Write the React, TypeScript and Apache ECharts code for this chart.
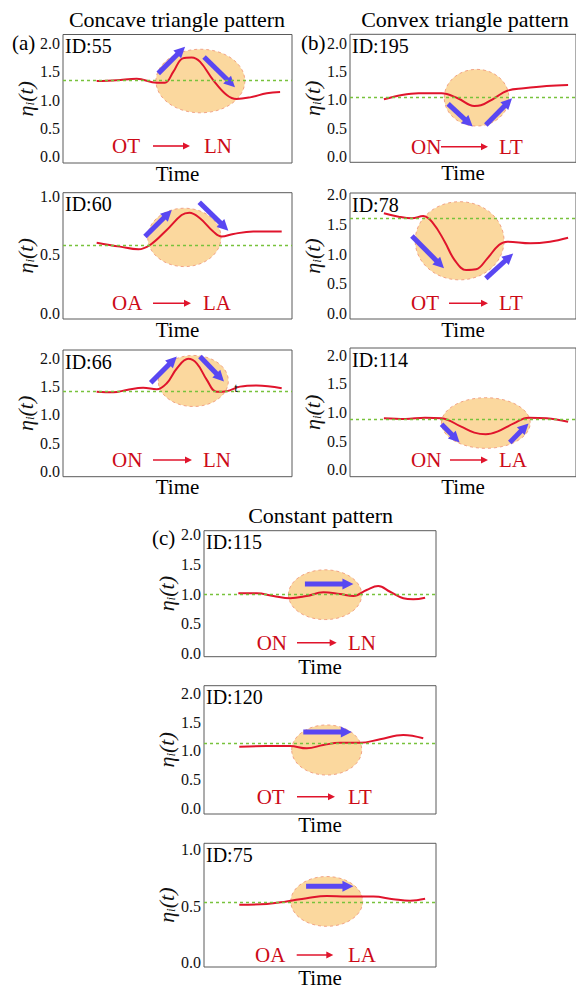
import React, { useEffect, useRef } from 'react';
import * as echarts from 'echarts';

const W = 576;
const H = 989;
const SERIF = "'Liberation Serif', 'Times New Roman', serif";

// ---------- data ----------
const panelIds = ['ID:55', 'ID:195', 'ID:60', 'ID:78', 'ID:66', 'ID:114', 'ID:115', 'ID:120', 'ID:75'];
const fromStates = ['OT', 'ON', 'OA', 'OT', 'ON', 'ON', 'ON', 'OT', 'OA'];
const toStates = ['LN', 'LT', 'LA', 'LT', 'LN', 'LA', 'LN', 'LT', 'LA'];
const patternTitles = ['Concave triangle pattern', 'Convex triangle pattern', 'Constant pattern'];
const panelLetters = ['(a)', '(b)', '(c)'];

const ticksFull = [0, 0.5, 1, 1.5, 2];
const ticksHalf = [0, 0.5, 1];
const panelTicks = [ticksFull, ticksFull, ticksHalf, ticksFull, ticksFull, ticksFull, ticksFull, ticksFull, ticksHalf];
const panelYMin = [-0.11, -0.1, -0.049, -0.096, -0.088, -0.117, -0.057, -0.099, -0.037];
const panelYMax = [2.155, 2.159, 1.033, 2.032, 2.146, 2.122, 2.071, 2.132, 1.057];

const curve55 = [[14.7, 1.335], [23.4, 1.35], [32.2, 1.376], [40.9, 1.305], [44.5, 1.305], [48.2, 1.5], [52.3, 1.735], [56.2, 1.75], [59.8, 1.676], [65.6, 1.35], [71.5, 1.088], [75.8, 1.018], [81.7, 1.047], [89, 1.118], [94.8, 1.14]];
const curve195 = [[15, 1.012], [23, 1.088], [30.3, 1.118], [40.5, 1.118], [47.7, 1.03], [55, 0.894], [57.9, 0.906], [63.8, 1.03], [69.6, 1.164], [76.9, 1.206], [87, 1.247], [96.5, 1.265]];
const curve60 = [[14.7, 0.605], [24.9, 0.571], [32.9, 0.548], [38, 0.585], [45.3, 0.714], [51.8, 0.842], [55.2, 0.862], [59.8, 0.814], [65.6, 0.7], [69.3, 0.657], [74.4, 0.68], [83.1, 0.7], [95.5, 0.7]];
const curve78 = [[15, 1.69], [21.5, 1.632], [27.4, 1.605], [32.4, 1.643], [36.8, 1.52], [41.9, 1.21], [46.3, 0.9], [51.4, 0.73], [55.8, 0.743], [60.8, 0.929], [65.9, 1.154], [69.6, 1.21], [79.8, 1.182], [88.5, 1.21], [96.5, 1.277]];
const curve66 = [[14.7, 1.41], [22, 1.4], [27.8, 1.44], [35, 1.48], [40.9, 1.453], [45.3, 1.56], [49.7, 1.82], [54.7, 1.99], [58.4, 1.91], [62.8, 1.62], [67.1, 1.41], [71.5, 1.42], [77.3, 1.5], [84.6, 1.52], [95.5, 1.47]];
const curve114 = [[15, 0.9], [24.5, 0.887], [33.2, 0.91], [40.5, 0.9], [49.2, 0.753], [55, 0.65], [60.1, 0.62], [65.2, 0.667], [72.5, 0.81], [79, 0.91], [87, 0.9], [96.5, 0.84]];
const curve115 = [[14.8, 1.013], [22.7, 1.013], [29.9, 0.968], [37.1, 0.929], [44.3, 0.968], [51.4, 1.03], [58.6, 1.0], [64.4, 0.968], [70.1, 1.07], [75.1, 1.137], [80.2, 1.04], [85.9, 0.93], [90.2, 0.912], [95.3, 0.94]];
const curve120 = [[15.2, 1.07], [27, 1.083], [37.1, 1.083], [44.3, 1.043], [51.4, 1.1], [58.6, 1.14], [67.2, 1.14], [75.9, 1.2], [85.9, 1.275], [94.5, 1.217]];
const curve75 = [[15.2, 0.514], [27, 0.52], [35.6, 0.543], [44.3, 0.572], [52.9, 0.592], [61.5, 0.586], [73, 0.586], [81.6, 0.563], [88.8, 0.549], [95.3, 0.566]];
const curves = [curve55, curve195, curve60, curve78, curve66, curve114, curve115, curve120, curve75];

const thresholds = [1.34, 1.047, 0.577, 1.615, 1.423, 0.88, 1.0, 1.13, 0.537];

// [centerX, centerY, radiusX, radiusY] in data units
const ellipses = [
  [60, 1.335, 19.4, 0.56],
  [56, 1.04, 14.3, 0.5],
  [53, 0.65, 16, 0.25],
  [48.5, 1.225, 19.65, 0.66],
  [56.9, 1.6, 15.3, 0.45],
  [60.1, 0.817, 19.65, 0.44],
  [52.2, 0.99, 15.8, 0.42],
  [52.9, 1.014, 15.1, 0.435],
  [52.9, 0.543, 15.5, 0.22],
];

// [x1, y1, x2, y2] in data units (tip at x2, y2)
const trendArrows = [
  [[41.6, 1.47, 53.3, 1.94], [61.6, 1.76, 75.1, 1.224]],
  [[43.4, 0.93, 54.3, 0.53], [60.1, 0.56, 71.7, 1.03]],
  [[35.8, 0.657, 47.5, 0.885], [59.5, 0.951, 72.2, 0.708]],
  [[27.4, 1.306, 41.6, 0.76], [60.1, 0.59, 72.2, 1.01]],
  [[38.3, 1.57, 49.7, 2.03], [59.8, 2.03, 70.3, 1.59]],
  [[40.5, 0.794, 48.5, 0.48], [70.7, 0.48, 79, 0.81]],
  [[43.5, 1.17, 64.4, 1.17]],
  [[42.8, 1.327, 63.7, 1.327]],
  [[44, 0.677, 64.4, 0.677]],
];

// ---------- layout ----------
const gridRects = [
  [63, 34.5, 229, 128.5],
  [350, 34.3, 229, 128],
  [63, 192.7, 229, 126.3],
  [350, 193, 229, 126],
  [63, 350, 229, 126.7],
  [350, 348, 229, 128.7],
  [204, 530.7, 232, 126],
  [204, 685.7, 232, 128.3],
  [204, 843.3, 232, 127.7],
];
// [fromLeft, arrowStart, arrowEnd, toLeft, offsetFromBottom]
const stateLayout = [
  [49, 90, 127, 141, 17],
  [61, 91, 138, 149, 15.6],
  [49, 90, 128, 140, 15.7],
  [61, 99, 138, 149, 15.7],
  [49, 90, 129, 140, 16.7],
  [61, 100, 138, 149, 16.7],
  [52.7, 93, 132.7, 144, 14],
  [52.7, 93, 131, 144, 17.3],
  [51, 92.7, 129.3, 144, 16],
];
const titlePos = [[177, 19], [465, 19], [320.6, 515]];
const letterPos = [[12, 43], [301, 43], [152, 538]];

const RED = '#e0142c';
const TXT_RED = '#cc0a18';
const BLUE = '#5947f2';
const ORANGE = '#fbd89e';

function ellipseRender(params: any, api: any) {
  const c = api.coord([api.value(0), api.value(1)]);
  const s = api.size([api.value(2), api.value(3)]);
  return {
    type: 'ellipse',
    shape: { cx: c[0], cy: c[1], rx: s[0], ry: s[1] },
    style: { fill: ORANGE, stroke: '#f2a486', lineWidth: 1, lineDash: [3, 3] },
  };
}

function arrowRender(params: any, api: any) {
  const p1 = api.coord([api.value(0), api.value(1)]);
  const p2 = api.coord([api.value(2), api.value(3)]);
  const dx = p2[0] - p1[0];
  const dy = p2[1] - p1[1];
  const len = Math.hypot(dx, dy) || 1;
  const ux = dx / len;
  const uy = dy / len;
  const hl = 11;
  const hw = 5.5;
  const bx = p2[0] - ux * hl;
  const by = p2[1] - uy * hl;
  return {
    type: 'group',
    children: [
      {
        type: 'line',
        shape: { x1: p1[0], y1: p1[1], x2: bx + ux, y2: by + uy },
        style: { stroke: BLUE, lineWidth: 5 },
      },
      {
        type: 'polygon',
        shape: { points: [[p2[0], p2[1]], [bx - uy * hw, by + ux * hw], [bx + uy * hw, by - ux * hw]] },
        style: { fill: BLUE },
      },
    ],
  };
}

export default function App() {
  const ref = useRef<HTMLDivElement>(null);
  useEffect(() => {
    document.body.style.margin = '0';
    const chart = echarts.init(ref.current!, null, { renderer: 'svg', width: W, height: H });

    const grids = gridRects.map(([l, t, w, h]) => ({
      left: l, top: t, width: w, height: h,
      show: true, borderColor: '#5a5a5a', borderWidth: 1, backgroundColor: 'transparent',
    }));

    const xAxes = gridRects.map((_, i) => ({
      type: 'value', gridIndex: i, min: 0, max: 100,
      axisLine: { show: false }, axisTick: { show: false }, axisLabel: { show: false }, splitLine: { show: false },
      name: 'Time', nameLocation: 'middle', nameGap: 0,
      nameTextStyle: { fontFamily: SERIF, fontSize: 21, color: '#000' },
    }));

    const yAxes = gridRects.map((_, i) => ({
      type: 'value', gridIndex: i, min: panelYMin[i], max: panelYMax[i],
      axisLine: { show: false }, axisTick: { show: false }, splitLine: { show: false },
      axisLabel: {
        customValues: panelTicks[i],
        formatter: (v: number) => v.toFixed(1),
        fontFamily: SERIF, fontSize: 16, color: '#111', margin: 3,
      },
      name: '{e|η}{s|i}{e|(t)}', nameLocation: 'middle', nameGap: 27, nameRotate: 90,
      nameTextStyle: {
        rich: {
          e: { fontFamily: SERIF, fontStyle: 'italic', fontSize: 22, color: '#111' },
          s: { fontFamily: SERIF, fontStyle: 'italic', fontSize: 13, color: '#111', verticalAlign: 'bottom' },
        },
      },
    }));

    const series: any[] = [];
    gridRects.forEach((_, i) => {
      series.push({
        type: 'custom', xAxisIndex: i, yAxisIndex: i, silent: true, z: 1,
        data: [ellipses[i]], renderItem: ellipseRender,
      });
      series.push({
        type: 'line', xAxisIndex: i, yAxisIndex: i, silent: true, z: 3,
        data: curves[i], smooth: 0.4, showSymbol: false,
        lineStyle: { color: RED, width: 2 },
        markLine: {
          silent: true, symbol: 'none', label: { show: false },
          lineStyle: { color: '#78c23c', type: [3, 3], width: 1.3 },
          data: [{ yAxis: thresholds[i] }],
        },
      });
      series.push({
        type: 'custom', xAxisIndex: i, yAxisIndex: i, silent: true, z: 4,
        data: trendArrows[i], renderItem: arrowRender,
      });
    });

    const graphics: any[] = [];
    patternTitles.forEach((t, k) => {
      graphics.push({
        type: 'text', x: titlePos[k][0], y: titlePos[k][1],
        style: { text: t, fontFamily: SERIF, fontSize: 22, fill: '#000', align: 'center', verticalAlign: 'middle' },
      });
      graphics.push({
        type: 'text', x: letterPos[k][0], y: letterPos[k][1],
        style: { text: panelLetters[k], fontFamily: SERIF, fontSize: 21, fill: '#000', align: 'left', verticalAlign: 'middle' },
      });
    });
    gridRects.forEach(([l, t, w, h], i) => {
      const [fOff, aS, aE, tOff, yOff] = stateLayout[i];
      const yc = t + h - yOff;
      graphics.push({
        type: 'text', x: l + 2, y: t + 11.5, z: 10,
        style: { text: panelIds[i], fontFamily: SERIF, fontSize: 20, fill: '#000', align: 'left', verticalAlign: 'middle' },
      });
      graphics.push({
        type: 'text', x: l + fOff, y: yc, z: 10,
        style: { text: fromStates[i], fontFamily: SERIF, fontSize: 21, fill: TXT_RED, align: 'left', verticalAlign: 'middle' },
      });
      graphics.push({
        type: 'text', x: l + tOff, y: yc, z: 10,
        style: { text: toStates[i], fontFamily: SERIF, fontSize: 21, fill: TXT_RED, align: 'left', verticalAlign: 'middle' },
      });
      graphics.push({
        type: 'line', z: 10,
        shape: { x1: l + aS, y1: yc, x2: l + aE - 5, y2: yc },
        style: { stroke: RED, lineWidth: 1.6 },
      });
      graphics.push({
        type: 'polygon', z: 10,
        shape: { points: [[l + aE, yc], [l + aE - 7, yc - 3.5], [l + aE - 7, yc + 3.5]] },
        style: { fill: RED },
      });
    });
    // stray glyph in panel ID:66
    graphics.push({
      type: 'text', x: gridRects[4][0] + 173, y: gridRects[4][1] + 37.7, z: 10,
      style: { text: 't', fontFamily: SERIF, fontSize: 13, fill: '#111', align: 'center', verticalAlign: 'middle' },
    });

    chart.setOption({
      animation: false,
      backgroundColor: '#fff',
      grid: grids,
      xAxis: xAxes,
      yAxis: yAxes,
      series,
      graphic: graphics,
    });
    return () => chart.dispose();
  }, []);
  return <div ref={ref} style={{ width: W, height: H }} />;
}
